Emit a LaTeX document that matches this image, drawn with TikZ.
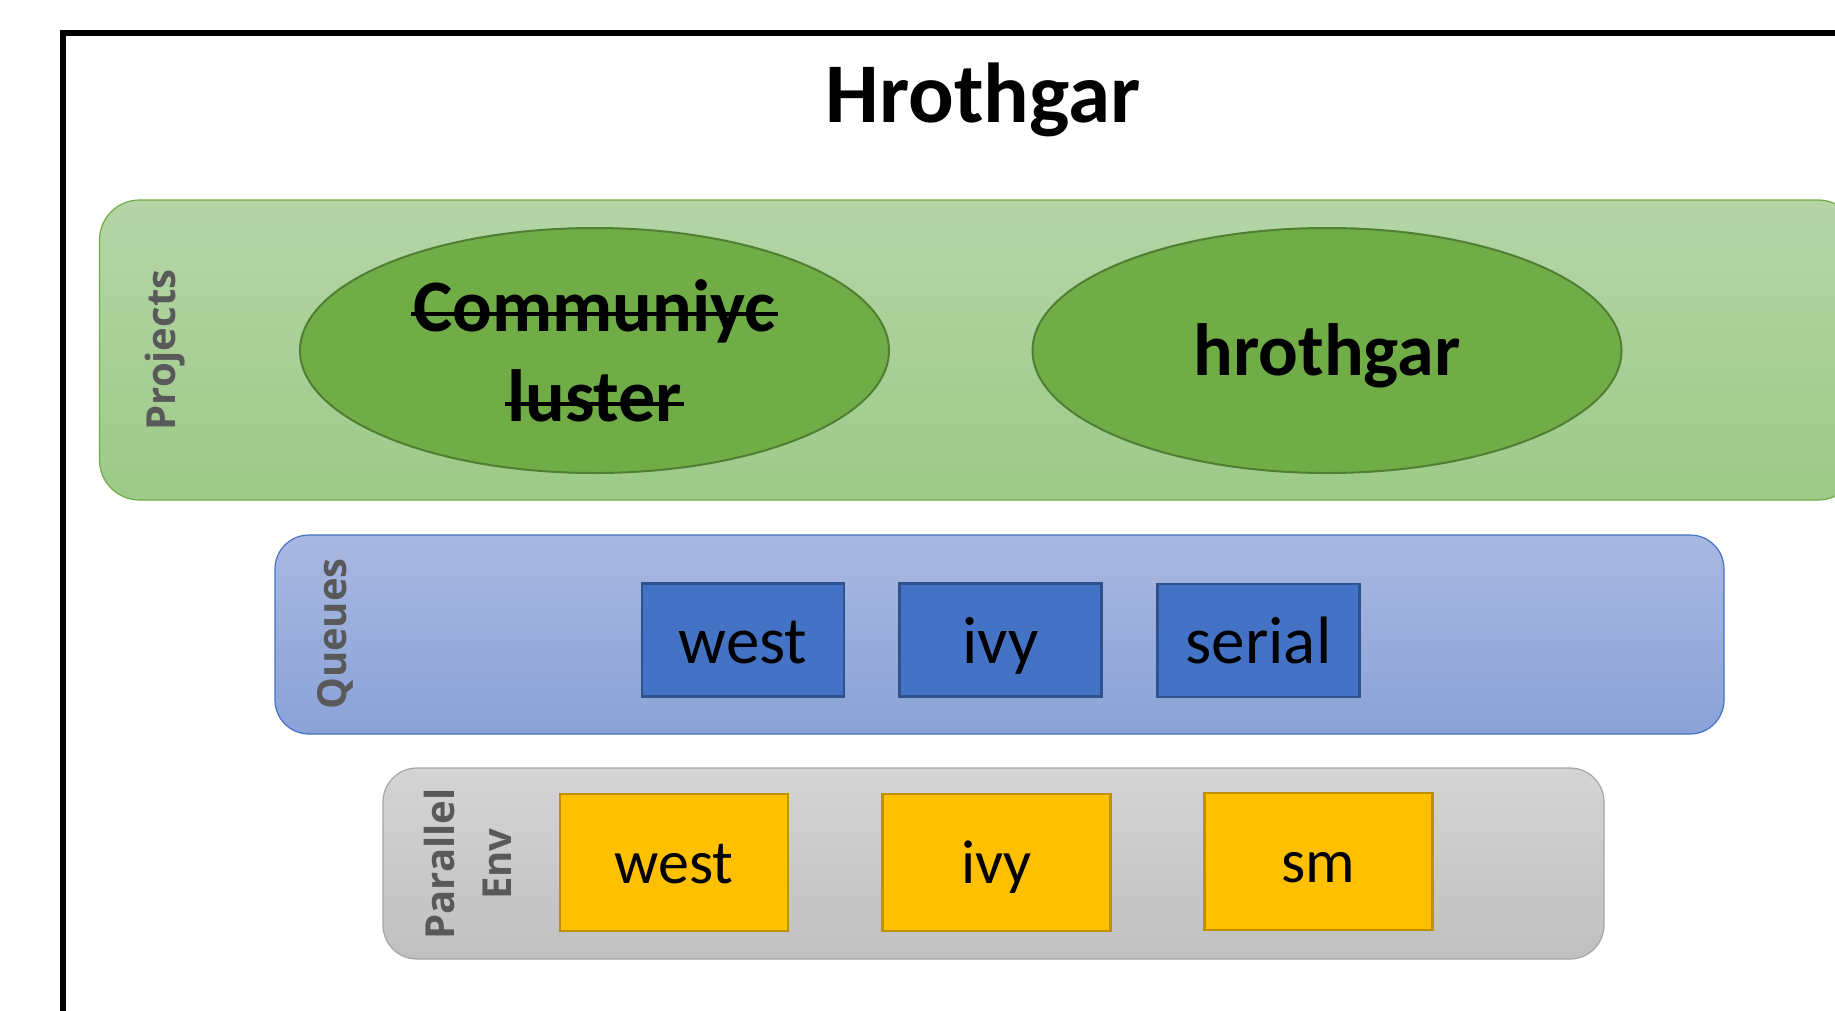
\documentclass[tikz,border=0pt]{standalone}
\usepackage{fontspec}
\setmainfont{Carlito}
\newfontfamily\labfont{Open Sans}
\usetikzlibrary{shapes.geometric}
\definecolor{frameblack}{HTML}{000000}
\definecolor{projtop}{HTML}{B5D5A7}
\definecolor{projbot}{HTML}{9DCA88}
\definecolor{projline}{HTML}{70AD47}
\definecolor{ellfill}{HTML}{70AD47}
\definecolor{ellline}{HTML}{507E32}
\definecolor{qtop}{HTML}{A9B8E0}
\definecolor{qbot}{HTML}{8AA2D8}
\definecolor{qline}{HTML}{4472C4}
\definecolor{bluebox}{HTML}{4472C4}
\definecolor{blueline}{HTML}{2F528F}
\definecolor{gtop}{HTML}{D4D4D4}
\definecolor{gbot}{HTML}{C0C0C0}
\definecolor{gline}{HTML}{A5A5A5}
\definecolor{yellowbox}{HTML}{FFC000}
\definecolor{yellowline}{HTML}{BF9000}
\definecolor{labgray}{HTML}{595959}
\newcommand\strk[1]{\setbox0\hbox{#1}\rlap{\hspace{-0.03em}\rule[0.21em]{\dimexpr\wd0+0.06em\relax}{0.045em}}\box0}
\begin{document}
\begin{tikzpicture}[x=0.5pt,y=-0.5pt,
  band/.style={rectangle, rounded corners=20pt, line width=0.6pt, inner sep=0pt},
  projband/.style={band, draw=projline, top color=projtop, bottom color=projbot},
  qband/.style={band, draw=qline, top color=qtop, bottom color=qbot, rounded corners=17pt},
  gband/.style={band, draw=gline, top color=gtop, bottom color=gbot, rounded corners=17pt},
  proj/.style={ellipse, fill=ellfill, draw=ellline, line width=1pt, inner sep=0pt,
    minimum width=294.5pt, minimum height=122.5pt, align=center,
    font=\bfseries\fontsize{37}{44}\selectfont},
  queue/.style={rectangle, fill=bluebox, draw=blueline, line width=1.2pt, inner sep=0pt,
    minimum width=101pt, minimum height=56.5pt, text height=23pt, text depth=0pt,
    font=\fontsize{33.5}{40}\selectfont},
  penv/.style={rectangle, fill=yellowbox, draw=yellowline, line width=1.2pt, inner sep=0pt,
    minimum width=114pt, minimum height=68.5pt, text height=21pt, text depth=0pt,
    font=\fontsize{31}{37}\selectfont},
  lab/.style={rotate=90, text=labgray, align=center, inner sep=0pt,
    font=\labfont\bfseries\fontsize{20}{28.5}\selectfont},
]
\useasboundingbox (0,0) rectangle (1835,1011);
\clip (0,0) rectangle (1835,1011);
% outer frame
\coordinate (fbl) at (63,1040);
\coordinate (ftl) at (63,33);
\coordinate (ftr) at (1870,33);
\draw[line width=3pt, frameblack] (fbl) -- (ftl) -- (ftr);
% title
\node (title) [anchor=base, inner sep=0pt, font=\bfseries\fontsize{42.5}{51}\selectfont] at (983,122) {Hrothgar};
% bands
\node (projects) [projband, minimum width=879.25pt, minimum height=150pt] at (978.75,350) {};
\node (queues) [qband, minimum width=724.5pt, minimum height=99.5pt] at (999.5,634.5) {};
\node (parallel) [gband, minimum width=610.5pt, minimum height=95.5pt] at (993.5,863.5) {};
% band labels
\node (projlab) [lab] at (165,350) {Projects};
\node (qlab) [lab] at (335,634) {Queues};
\node (plab) [lab] at (468,864) {Parallel\\Env};
% projects
\node (community) [proj] at (594.5,350.5) {\strk{Communiyc}\\[1pt]\strk{luster}};
\node (hrothgar) [proj, text height=24.5pt, text depth=0pt] at (1327,350.5) {hrothgar};
% queues
\node (qwest) [queue] at (743,640) {west};
\node (qivy) [queue] at (1000.5,640) {ivy};
\node (qserial) [queue] at (1258.5,640.5) {serial};
% parallel envs
\node (pwest) [penv] at (674,862.5) {west};
\node (pivy) [penv] at (996.5,862.5) {ivy};
\node (psm) [penv] at (1318.5,861.5) {sm};
\end{tikzpicture}
\end{document}
